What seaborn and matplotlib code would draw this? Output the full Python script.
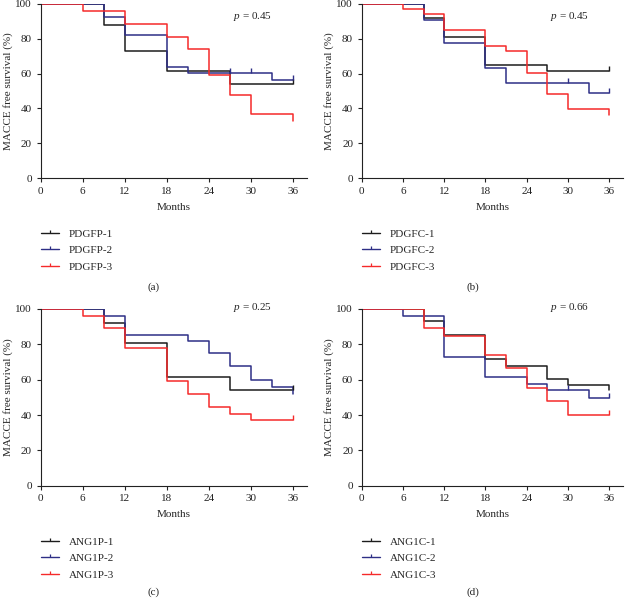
import pandas as pd
import matplotlib.pyplot as plt
import seaborn as sns
from matplotlib.lines import Line2D

# ---- panel (a): PDGFP ----
a1_months = [0, 9, 12, 18, 27, 36]
a1_surv = [100, 88, 73, 61.5, 54, 54]
a2_months = [0, 9, 12, 18, 21, 33, 36]
a2_surv = [100, 92.5, 82, 64, 60.5, 56.5, 56.5]
a3_months = [0, 6, 12, 18, 21, 24, 27, 30, 36]
a3_surv = [100, 96, 88.5, 81, 74, 59, 48, 37, 33]
a1_cens_m, a1_cens_s = [36], [54]
a2_cens_m, a2_cens_s = [27, 30, 36], [60.5, 60.5, 56.5]
a3_cens_m, a3_cens_s = [], []

# ---- panel (b): PDGFC ----
b1_months = [0, 9, 12, 18, 27, 36]
b1_surv = [100, 92, 81, 65, 61.5, 61.5]
b2_months = [0, 9, 12, 18, 21, 33, 36]
b2_surv = [100, 91, 77.5, 63.5, 54.5, 49, 49]
b3_months = [0, 6, 9, 12, 18, 21, 24, 27, 30, 36]
b3_surv = [100, 97, 94, 85, 76, 73, 60.5, 48.5, 39.5, 36]
b1_cens_m, b1_cens_s = [36], [61.5]
b2_cens_m, b2_cens_s = [30, 36], [54.5, 49]
b3_cens_m, b3_cens_s = [], []

# ---- panel (c): ANG1P ----
c1_months = [0, 9, 12, 18, 27, 36]
c1_surv = [100, 92, 80.5, 61.5, 54, 54]
c2_months = [0, 9, 12, 21, 24, 27, 30, 33, 36]
c2_surv = [100, 96, 85.5, 82, 75, 68, 60, 56, 52]
c3_months = [0, 6, 9, 12, 18, 21, 24, 27, 30, 36]
c3_surv = [100, 96, 89, 78, 59, 52, 44.5, 40.5, 37, 37]
c1_cens_m, c1_cens_s = [36], [54]
c2_cens_m, c2_cens_s = [], []
c3_cens_m, c3_cens_s = [36], [37]

# ---- panel (d): ANG1C ----
d1_months = [0, 9, 12, 18, 21, 27, 30, 36]
d1_surv = [100, 93, 85.5, 71.5, 68, 60.5, 57, 54]
d2_months = [0, 6, 12, 18, 24, 27, 33, 36]
d2_surv = [100, 96, 73, 61.5, 57.5, 54, 49.5, 49.5]
d3_months = [0, 9, 12, 18, 21, 24, 27, 30, 36]
d3_surv = [100, 89, 85, 74, 66.5, 55.5, 48, 40, 40]
d1_cens_m, d1_cens_s = [], []
d2_cens_m, d2_cens_s = [30, 36], [54, 49.5]
d3_cens_m, d3_cens_s = [36], [40]

group_names = {
    "a": ["PDGFP-1", "PDGFP-2", "PDGFP-3"],
    "b": ["PDGFC-1", "PDGFC-2", "PDGFC-3"],
    "c": ["ANG1P-1", "ANG1P-2", "ANG1P-3"],
    "d": ["ANG1C-1", "ANG1C-2", "ANG1C-3"],
}
p_values = {"a": "0.45", "b": "0.45", "c": "0.25", "d": "0.66"}
x_ticks = [0, 6, 12, 18, 24, 30, 36]
y_ticks = [0, 20, 40, 60, 80, 100]
colors = ["#1c1c1c", "#2e2f86", "#f52a2a"]

curves = {
    "a": [(a1_months, a1_surv), (a2_months, a2_surv), (a3_months, a3_surv)],
    "b": [(b1_months, b1_surv), (b2_months, b2_surv), (b3_months, b3_surv)],
    "c": [(c1_months, c1_surv), (c2_months, c2_surv), (c3_months, c3_surv)],
    "d": [(d1_months, d1_surv), (d2_months, d2_surv), (d3_months, d3_surv)],
}
censored = {
    "a": [(a1_cens_m, a1_cens_s), (a2_cens_m, a2_cens_s), (a3_cens_m, a3_cens_s)],
    "b": [(b1_cens_m, b1_cens_s), (b2_cens_m, b2_cens_s), (b3_cens_m, b3_cens_s)],
    "c": [(c1_cens_m, c1_cens_s), (c2_cens_m, c2_cens_s), (c3_cens_m, c3_cens_s)],
    "d": [(d1_cens_m, d1_cens_s), (d2_cens_m, d2_cens_s), (d3_cens_m, d3_cens_s)],
}


def long_frame(pairs, names):
    frames = [pd.DataFrame({"month": m, "surv": s, "group": n}) for (m, s), n in zip(pairs, names)]
    return pd.concat(frames, ignore_index=True)


sns.set_style("ticks")
plt.rcParams["font.family"] = ["Liberation Serif", "DejaVu Serif"]
plt.rcParams["mathtext.fontset"] = "custom"
plt.rcParams["mathtext.it"] = "Liberation Serif:italic"
plt.rcParams["mathtext.rm"] = "Liberation Serif"
FS = 8

fig = plt.figure(figsize=(6.25, 6.0), dpi=100)

layout = {
    "a": [0.065, 0.703, 0.426, 0.2905],
    "b": [0.5787, 0.703, 0.418, 0.2905],
    "c": [0.065, 0.1905, 0.426, 0.2945],
    "d": [0.5787, 0.1905, 0.418, 0.2945],
}
p_y = {"a": 92.5, "b": 92.5, "c": 101, "d": 101}
caption_pos = {"a": (0.245, 0.522), "b": (0.757, 0.522), "c": (0.245, 0.013), "d": (0.757, 0.013)}

for key in ["a", "b", "c", "d"]:
    ax = fig.add_axes(layout[key])
    names = group_names[key]
    palette = dict(zip(names, colors))

    df = long_frame(curves[key], names)
    sns.lineplot(data=df, x="month", y="surv", hue="group", hue_order=names, palette=palette,
                 drawstyle="steps-post", estimator=None, linewidth=1.1, legend=False, ax=ax)

    cens = long_frame(censored[key], names)
    if len(cens):
        sns.scatterplot(data=cens, x="month", y="surv", hue="group", hue_order=names, palette=palette,
                        marker=2, s=14, linewidth=1.0, legend=False, ax=ax, zorder=3)

    ax.set_xlim(0, 38)
    ax.set_ylim(0, 100)
    ax.set_xticks(x_ticks)
    ax.set_yticks(y_ticks)
    ax.tick_params(labelsize=FS, length=3, width=0.8, pad=3.2, colors="#222222")
    for side in ["top", "right"]:
        ax.spines[side].set_visible(False)
    for side in ["left", "bottom"]:
        ax.spines[side].set_linewidth(0.8)
        ax.spines[side].set_color("#222222")

    ax.set_xlabel("Months", fontsize=FS)
    ax.set_ylabel("MACCE free survival (%)", fontsize=FS)
    ax.xaxis.set_label_coords(0.5, -0.14)
    ax.yaxis.set_label_coords(-0.105, 0.5)

    ax.text(27.4, p_y[key], r"$p$ = " + p_values[key], fontsize=FS, va="center", ha="left")

    handles = [Line2D([0], [0], color=c, lw=1.0, marker=2, markersize=2.2, markeredgewidth=0.9, label=n)
               for c, n in zip(colors, names)]
    ax.legend(handles=handles, loc="upper left", bbox_to_anchor=(0.0, -0.29), frameon=False,
              fontsize=FS, borderpad=0, borderaxespad=0, handlelength=1.65, handletextpad=0.85,
              labelspacing=0.62, numpoints=1)

    fig.text(caption_pos[key][0], caption_pos[key][1], f"({key})", fontsize=FS, ha="center", va="center")

fig.savefig("out.png", dpi=100)
